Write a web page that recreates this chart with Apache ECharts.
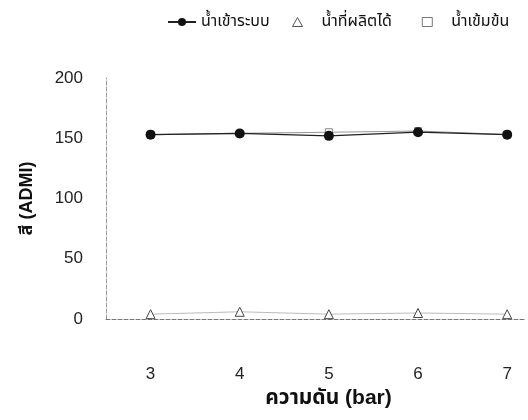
<!DOCTYPE html>
<html lang="th">
<head>
    <meta charset="UTF-8">
    <title>สี (ADMI)</title>
    <script src="https://cdn.jsdelivr.net/npm/echarts@6/dist/echarts.min.js"></script>
    <style>
        body { margin: 0; background: #fff; }
        #main { width: 528px; height: 420px; }
    </style>
</head>
<body>
    <div id="main"></div>
    <script type="text/javascript">
        // ความดัน (bar)
        var pressure = [3, 4, 5, 6, 7];
        // สี (ADMI) ของแต่ละสาย
        var feedColor = [153, 154, 152, 155, 153];
        var permeateColor = [4, 6, 4, 5, 4];
        var concColor = [153, 154, 155, 156, 153];
        var yTicks = [0, 50, 100, 150, 200];

        var FONT = "'Liberation Sans', 'Noto Sans Thai', 'Loma', sans-serif";

        function pairs(vals) {
            return pressure.map(function (p, i) { return [p, vals[i]]; });
        }

        var myChart = echarts.init(document.getElementById('main'));
        myChart.setOption({
            backgroundColor: '#fff',
            textStyle: { fontFamily: FONT },
            legend: [
                {
                    // เส้นพร้อมจุด
                    top: 9,
                    left: 162,
                    itemWidth: 28,
                    itemHeight: 10,
                    textStyle: { fontSize: 16, color: '#111', fontFamily: FONT },
                    data: ['น้ำเข้าระบบ']
                },
                {
                    top: 9,
                    left: 287,
                    itemGap: 30,
                    itemWidth: 10,
                    itemHeight: 9,
                    textStyle: { fontSize: 16, color: '#111', fontFamily: FONT, padding: [0, 0, 0, 14] },
                    data: [
                        { name: 'น้ำที่ผลิตได้', icon: 'triangle', itemStyle: { color: '#fff', borderColor: '#555', borderWidth: 1 } },
                        { name: 'น้ำเข้มข้น', icon: 'rect', itemStyle: { color: '#fff', borderColor: '#777', borderWidth: 1 } }
                    ]
                }
            ],
            grid: { left: 106, right: 2, top: 78, bottom: 101 },
            xAxis: {
                type: 'value',
                min: 2.5,
                max: 7.2,
                interval: 0.5,
                name: 'ความดัน (bar)',
                nameLocation: 'middle',
                nameGap: 59,
                nameTextStyle: { fontSize: 21, fontWeight: 'bold', color: '#111', padding: [0, 0, 0, 26] },
                axisLine: { show: true, lineStyle: { color: '#777', type: 'dashed', width: 1 } },
                axisTick: { show: false },
                splitLine: { show: false },
                axisLabel: {
                    margin: 47,
                    fontSize: 17,
                    color: '#222',
                    formatter: function (v) { return Number.isInteger(v) ? String(v) : ''; }
                }
            },
            yAxis: {
                type: 'value',
                min: yTicks[0],
                max: yTicks[yTicks.length - 1],
                interval: 50,
                name: 'สี (ADMI)',
                nameLocation: 'middle',
                nameGap: 70,
                nameTextStyle: { fontSize: 18, fontWeight: 'bold', color: '#111' },
                axisLine: { show: true, lineStyle: { color: '#999', type: 'dashed', width: 1 } },
                axisTick: { show: false },
                splitLine: { show: false },
                axisLabel: { margin: 23, fontSize: 17, color: '#222' }
            },
            series: [
                {
                    name: 'น้ำเข้มข้น',
                    type: 'line',
                    data: pairs(concColor),
                    symbol: 'rect',
                    symbolSize: 7,
                    itemStyle: { color: '#fff', borderColor: '#888', borderWidth: 1 },
                    lineStyle: { color: '#999', width: 1.2 },
                    z: 2
                },
                {
                    name: 'น้ำเข้าระบบ',
                    type: 'line',
                    data: pairs(feedColor),
                    symbol: 'circle',
                    symbolSize: 10,
                    itemStyle: { color: '#111' },
                    lineStyle: { color: '#222', width: 1.3 },
                    z: 3
                },
                {
                    name: 'น้ำที่ผลิตได้',
                    type: 'line',
                    data: pairs(permeateColor),
                    symbol: 'triangle',
                    symbolSize: 9,
                    itemStyle: { color: '#fff', borderColor: '#444', borderWidth: 1 },
                    lineStyle: { color: '#bbb', width: 1 },
                    z: 3
                }
            ]
        });
    </script>
</body>
</html>
